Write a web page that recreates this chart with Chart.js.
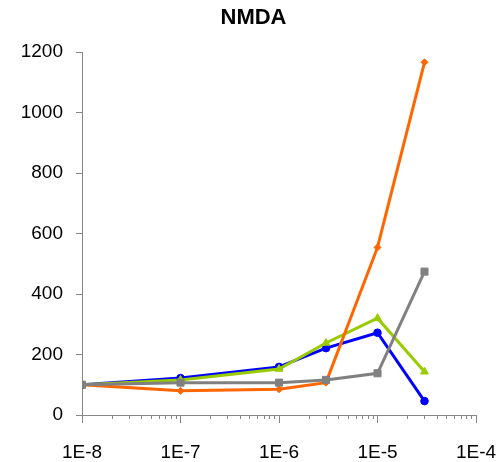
<!DOCTYPE html>
<html><head><meta charset="utf-8">
<script src="https://cdn.jsdelivr.net/npm/chart.js@4/dist/chart.umd.min.js"></script>
<style>html,body{margin:0;padding:0;background:#fff}#wrap{width:496px;height:462px}</style>
</head><body><div id="wrap"><canvas id="c" width="496" height="462"></canvas></div>
<script>
const concentrations = [1e-8, 1e-7, 1e-6, 3e-6, 1e-5, 3e-5];
const blueValues   = [100, 122, 159, 221, 272, 46];
const greenValues  = [100, 116, 152, 238, 320, 143];
const orangeValues = [100, 80, 85, 107, 554, 1166];
const grayValues   = [100, 107, 107, 116, 138, 474];
const xTickLabels = ['1E-8', '1E-7', '1E-6', '1E-5', '1E-4'];
const xDecades = [1e-8, 1e-7, 1e-6, 1e-5, 1e-4];
const yTicks = [0, 200, 400, 600, 800, 1000, 1200];

const pts = vals => concentrations.map((c, i) => ({x: c, y: vals[i]}));
const FONT = "'Liberation Sans', Arial, sans-serif";
const AXIS = '#868686';

function isDecade(v){ const l = Math.log10(v); return Math.abs(l - Math.round(l)) < 1e-9; }

const minorTicks = {
  id: 'minorTicks',
  afterDraw(chart){
    const s = chart.scales.x, ctx = chart.ctx;
    ctx.save(); ctx.strokeStyle = AXIS; ctx.lineWidth = 1;
    s.ticks.forEach(t => {
      if (isDecade(t.value)) return;
      const px = Math.round(s.getPixelForValue(t.value)) + 0.5;
      ctx.beginPath(); ctx.moveTo(px, s.top); ctx.lineTo(px, s.top + 4); ctx.stroke();
    });
    ctx.restore();
  }
};

const ds = (label, vals, color, style, r) => ({
  label, data: pts(vals), borderColor: color, backgroundColor: color,
  borderWidth: 3, pointStyle: style, pointRadius: r, pointHoverRadius: r, pointBorderWidth: 1, tension: 0
});

new Chart(document.getElementById('c'), {
  type: 'line',
  data: {
    datasets: [
      ds('gray', grayValues, '#808080', 'rect', 5),
      ds('orange', orangeValues, '#FF6600', 'rectRot', 3.5),
      ds('green', greenValues, '#99CC00', 'triangle', 4.5),
      ds('blue', blueValues, '#0000FF', 'circle', 3.8)
    ]
  },
  plugins: [minorTicks],
  options: {
    responsive: false, animation: false,
    layout: {padding: {left: 11, right: 0, top: 0, bottom: 2}},
    plugins: {
      legend: {display: false}, tooltip: {enabled: false},
      title: {display: true, text: 'NMDA', color: '#000',
        font: {family: FONT, size: 22, weight: 'bold'}, padding: {top: 5, bottom: 20.6}}
    },
    scales: {
      x: {
        type: 'logarithmic', min: 1e-8, max: 1e-4,
        afterBuildTicks: s => {
          const t = [];
          xDecades.forEach((d, i) => {
            if (i === xDecades.length - 1) { t.push({value: d}); return; }
            for (let m = 1; m <= 9; m++) t.push({value: m * d});
          });
          s.ticks = t;
        },
        afterFit: s => { s.paddingLeft = 0; s.paddingRight = 20; s.height = 45; },
        ticks: {
          autoSkip: false, maxRotation: 0, minRotation: 0, color: '#000', padding: 18,
          font: {family: FONT, size: 19},
          callback: (v) => { const i = xDecades.findIndex(d => Math.abs(d - v) / d < 1e-6); return i >= 0 ? xTickLabels[i] : ''; }
        },
        grid: {drawOnChartArea: false, drawTicks: true, tickLength: 8,
          tickColor: c => (c.tick && isDecade(c.tick.value)) ? AXIS : 'rgba(0,0,0,0)'},
        border: {color: AXIS, width: 1}
      },
      y: {
        min: 0, max: 1200,
        afterBuildTicks: s => { s.ticks = yTicks.map(v => ({value: v})); },
        afterFit: s => { s.width = 71; s.paddingTop = 0; s.paddingBottom = 0; },
        ticks: {color: '#000', padding: 13, font: {family: FONT, size: 19}, callback: v => String(v)},
        grid: {drawOnChartArea: false, drawTicks: true, tickLength: 6, tickColor: AXIS},
        border: {color: AXIS, width: 1}
      }
    }
  }
});
</script></body></html>
